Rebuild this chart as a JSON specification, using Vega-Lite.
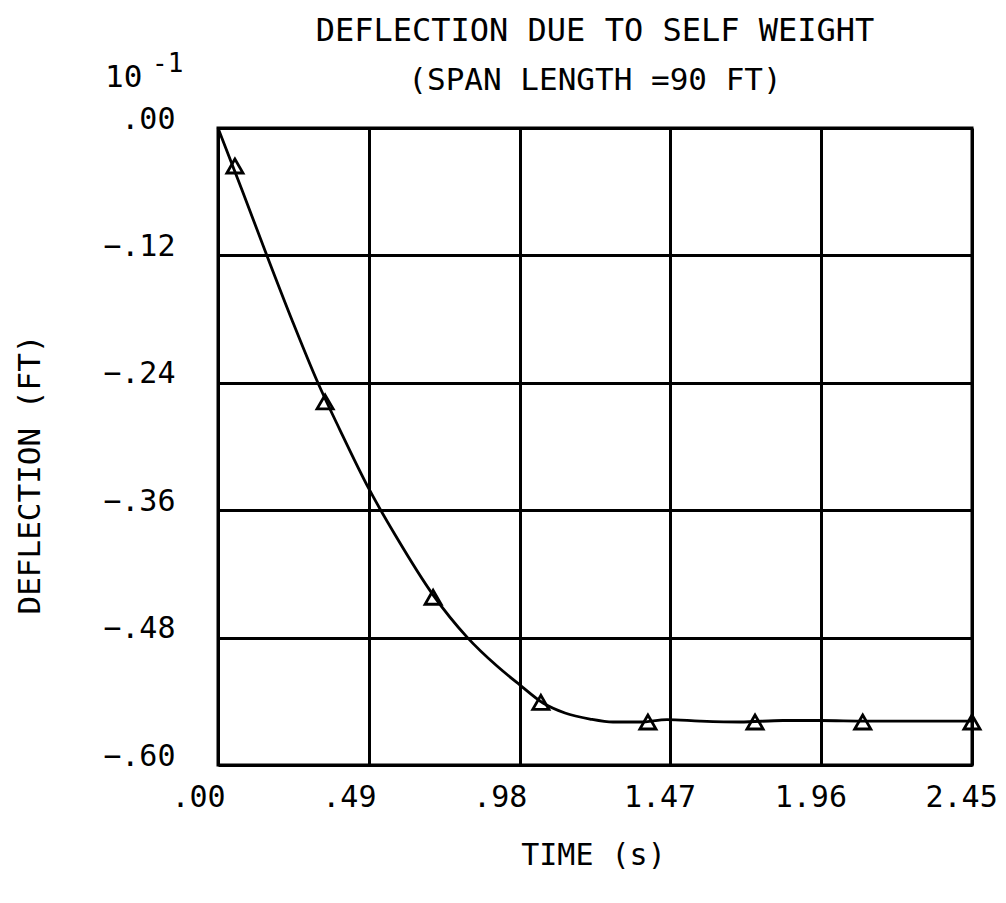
{
  "$schema": "https://vega.github.io/schema/vega-lite/v6.json",
  "autosize": {"type": "none"},
  "padding": {"left": 218, "top": 128, "right": 34, "bottom": 138},
  "width": 754,
  "height": 637,
  "background": "white",
  "config": {
    "font": "DejaVu Sans Mono",
    "view": {"stroke": "black", "strokeWidth": 3},
    "axis": {
      "labelFont": "DejaVu Sans Mono",
      "titleFont": "DejaVu Sans Mono",
      "labelColor": "black",
      "titleColor": "black",
      "labelFontWeight": "normal",
      "titleFontWeight": "normal",
      "gridColor": "black",
      "gridOpacity": 1,
      "gridWidth": 3,
      "ticks": false,
      "domain": false
    }
  },
  "title": {
    "text": "DEFLECTION DUE TO SELF WEIGHT",
    "subtitle": "(SPAN LENGTH =90 FT)",
    "font": "DejaVu Sans Mono",
    "subtitleFont": "DejaVu Sans Mono",
    "fontSize": 32,
    "subtitleFontSize": 31,
    "fontWeight": "normal",
    "color": "black",
    "subtitleColor": "black",
    "anchor": "middle",
    "frame": "group",
    "subtitlePadding": 18,
    "offset": 22,
    "dy": 68
  },
  "datasets": {
    "curve": [
      {"t": 0, "d": 0},
      {"t": 0.078, "d": -0.0584},
      {"t": 0.1582, "d": -0.1196},
      {"t": 0.2404, "d": -0.1808},
      {"t": 0.3249, "d": -0.2402},
      {"t": 0.3964, "d": -0.2845},
      {"t": 0.4906, "d": -0.34},
      {"t": 0.5816, "d": -0.3862},
      {"t": 0.6986, "d": -0.4397},
      {"t": 0.8091, "d": -0.4795},
      {"t": 0.9066, "d": -0.5068},
      {"t": 0.9813, "d": -0.5247},
      {"t": 1.056, "d": -0.5416},
      {"t": 1.1275, "d": -0.551},
      {"t": 1.2087, "d": -0.5567},
      {"t": 1.2835, "d": -0.5595},
      {"t": 1.3712, "d": -0.5595},
      {"t": 1.4589, "d": -0.5572},
      {"t": 1.5661, "d": -0.5586},
      {"t": 1.6961, "d": -0.5595},
      {"t": 1.8357, "d": -0.5581},
      {"t": 1.9561, "d": -0.5581},
      {"t": 2.1088, "d": -0.5586},
      {"t": 2.3233, "d": -0.5586},
      {"t": 2.45, "d": -0.5586}
    ],
    "points": [
      {"t": 0.055, "d": -0.0358},
      {"t": 0.348, "d": -0.258},
      {"t": 0.699, "d": -0.442},
      {"t": 1.049, "d": -0.541},
      {"t": 1.397, "d": -0.5595},
      {"t": 1.745, "d": -0.5595},
      {"t": 2.095, "d": -0.5595},
      {"t": 2.45, "d": -0.5595}
    ]
  },
  "layer": [
    {
      "data": {"name": "curve"},
      "mark": {"type": "line", "color": "black", "strokeWidth": 2.8, "interpolate": "monotone", "clip": false},
      "encoding": {
        "x": {
          "field": "t", "type": "quantitative",
          "scale": {"domain": [0, 2.45], "nice": false, "zero": false},
          "axis": {
            "values": [0, 0.49, 0.98, 1.47, 1.96, 2.45],
            "labelExpr": "replace(format(datum.value, '.2f'), '0.', '.')",
            "labelFontSize": 30,
            "labelAlign": "left",
            "labelOffset": -47,
            "labelFlush": false,
            "labelOverlap": false,
            "labelBaseline": "top",
            "labelPadding": 17,
            "title": "TIME (s)",
            "titleFontSize": 30,
            "titleX": 375,
            "titleY": 90,
            "titleAlign": "center",
            "titleBaseline": "middle"
          }
        },
        "y": {
          "field": "d", "type": "quantitative",
          "scale": {"domain": [-0.6, 0], "nice": false, "zero": false},
          "axis": {
            "values": [0, -0.12, -0.24, -0.36, -0.48, -0.6],
            "labelExpr": "replace(format(datum.value, '.2f'), '0.', '.')",
            "labelFontSize": 30,
            "labelBaseline": "alphabetic",
            "labelPadding": 43,
            "labelOverlap": false,
            "labelFlush": false,
            "title": "DEFLECTION (FT)",
            "titleFontSize": 31,
            "titleAngle": -90,
            "titleX": -188,
            "titleY": 346,
            "titleAlign": "center",
            "titleBaseline": "middle"
          }
        }
      }
    },
    {
      "data": {"name": "points"},
      "mark": {"type": "point", "shape": "triangle-up", "filled": false, "color": "black", "strokeWidth": 2.8, "size": 260, "opacity": 1, "clip": false},
      "encoding": {
        "x": {"field": "t", "type": "quantitative"},
        "y": {"field": "d", "type": "quantitative"}
      }
    },
    {
      "data": {"values": [{"label": "10"}]},
      "mark": {"type": "text", "font": "DejaVu Sans Mono", "fontSize": 31, "align": "left", "baseline": "alphabetic", "dx": -113, "dy": -41, "color": "black"},
      "encoding": {
        "x": {"datum": 0, "type": "quantitative"},
        "y": {"datum": 0, "type": "quantitative"},
        "text": {"field": "label"}
      }
    },
    {
      "data": {"values": [{"label": "-1"}]},
      "mark": {"type": "text", "font": "DejaVu Sans Mono", "fontSize": 26, "align": "left", "baseline": "alphabetic", "dx": -66, "dy": -56, "color": "black"},
      "encoding": {
        "x": {"datum": 0, "type": "quantitative"},
        "y": {"datum": 0, "type": "quantitative"},
        "text": {"field": "label"}
      }
    }
  ]
}
